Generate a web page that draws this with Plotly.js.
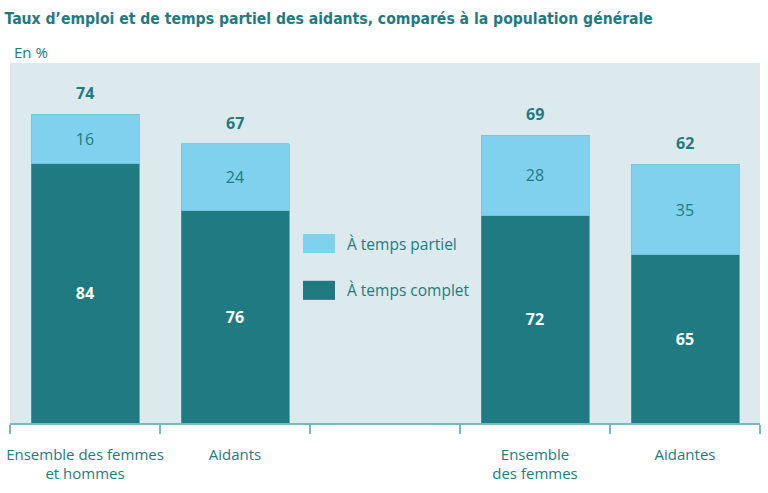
<!DOCTYPE html>
<html>
<head>
<meta charset="utf-8">
<script src="https://cdn.plot.ly/plotly-3.0.1.min.js"></script>
<style>html,body{margin:0;padding:0;background:#fff;}#chart{width:768px;height:493px;}</style>
</head>
<body>
<div id="chart"></div>
<script>
// Data
const categories = ["Ensemble des femmes<br>et hommes", "Aidants", " ", "Ensemble<br>des femmes", "Aidantes"];
const employmentRate = [74, 67, null, 69, 62];      // taux d'emploi (total height)
const fullTimeShare = [84, 76, null, 72, 65];       // % à temps complet
const partTimeShare = [16, 24, null, 28, 35];       // % à temps partiel
const seriesNames = ["À temps partiel", "À temps complet"];

const TEAL = "#1f7a82";
const LIGHT = "#80d1ee";
const BG = "#dceaee";
const TXT = "#1f7a82";
const BODYFONT = "Open Sans, Noto Sans, sans-serif";

const fullY = employmentRate.map((t, i) => t == null ? null : t * fullTimeShare[i] / 100);
const partY = employmentRate.map((t, i) => t == null ? null : t * partTimeShare[i] / 100);

const traces = [
  {
    type: "bar", name: seriesNames[1], x: categories, y: fullY,
    text: fullTimeShare.map(v => v == null ? "" : "<b>" + v + "</b>"),
    textposition: "inside", insidetextanchor: "middle", constraintext: "none",
    textfont: {color: "#ffffff", size: 16, family: BODYFONT},
    marker: {color: TEAL, line: {color: "#4f9aa2", width: 0.8}},
    hoverinfo: "skip", showlegend: false
  },
  {
    type: "bar", name: seriesNames[0], x: categories, y: partY,
    text: partTimeShare.map(v => v == null ? "" : String(v)),
    textposition: "inside", insidetextanchor: "middle", constraintext: "none",
    textfont: {color: TXT, size: 16, family: BODYFONT},
    marker: {color: LIGHT, line: {color: "#6cc3df", width: 0.8}},
    hoverinfo: "skip", showlegend: false
  }
];

const annotations = [];
categories.forEach((c, i) => {
  if (employmentRate[i] == null) return;
  annotations.push({
    x: c, y: employmentRate[i], xref: "x", yref: "y",
    text: "<b>" + employmentRate[i] + "</b>", showarrow: false,
    yanchor: "bottom", yshift: 8,
    font: {color: TXT, size: 16, family: BODYFONT}
  });
});
annotations.push({
  xref: "paper", yref: "paper", x: 0.002, y: 1.03, xanchor: "left", yanchor: "middle",
  text: "En %", showarrow: false, font: {color: TXT, size: 15, family: BODYFONT}
});
// legend
annotations.push({
  xref: "paper", yref: "paper", x: 0.4467, y: 0.4986, xanchor: "left", yanchor: "middle",
  text: seriesNames[0], showarrow: false, font: {color: TXT, size: 15.5, family: BODYFONT}
});
annotations.push({
  xref: "paper", yref: "paper", x: 0.4467, y: 0.3683, xanchor: "left", yanchor: "middle",
  text: seriesNames[1], showarrow: false, font: {color: TXT, size: 15.5, family: BODYFONT}
});

const shapes = [
  {type: "rect", xref: "paper", yref: "paper", x0: 0.3907, x1: 0.4333, y0: 0.472, y1: 0.525,
   fillcolor: LIGHT, line: {width: 0}},
  {type: "rect", xref: "paper", yref: "paper", x0: 0.3907, x1: 0.4333, y0: 0.342, y1: 0.395,
   fillcolor: TEAL, line: {width: 0}}
];

const layout = {
  width: 768, height: 493,
  margin: {l: 10, r: 8, t: 63, b: 70},
  paper_bgcolor: "#ffffff", plot_bgcolor: BG,
  barmode: "stack", bargap: 0.28,
  title: {
    text: "<b>Taux d’emploi et de temps partiel des aidants, comparés à la population générale</b>",
    x: 0.006, xanchor: "left", xref: "container",
    y: 0.963, yanchor: "middle", yref: "container",
    font: {family: "Liberation Sans Narrow, DejaVu Sans Condensed, sans-serif", size: 15.6, color: TXT}
  },
  xaxis: {
    type: "category", categoryorder: "array", categoryarray: categories,
    tickson: "boundaries", ticks: "outside", ticklen: 9, tickwidth: 1.5, tickcolor: "#7ab8c0",
    tickangle: 0, ticklabelstandoff: 17,
    showline: true, linecolor: "#7ab8c0", linewidth: 1.5,
    showgrid: false, zeroline: false,
    tickfont: {family: BODYFONT, size: 15, color: TXT}
  },
  yaxis: {
    range: [0, 86.3], showticklabels: false, showgrid: false, zeroline: false, ticks: ""
  },
  annotations: annotations,
  shapes: shapes,
  font: {family: BODYFONT, color: TXT}
};

Plotly.newPlot("chart", traces, layout, {displayModeBar: false, staticPlot: true});
</script>
</body>
</html>
